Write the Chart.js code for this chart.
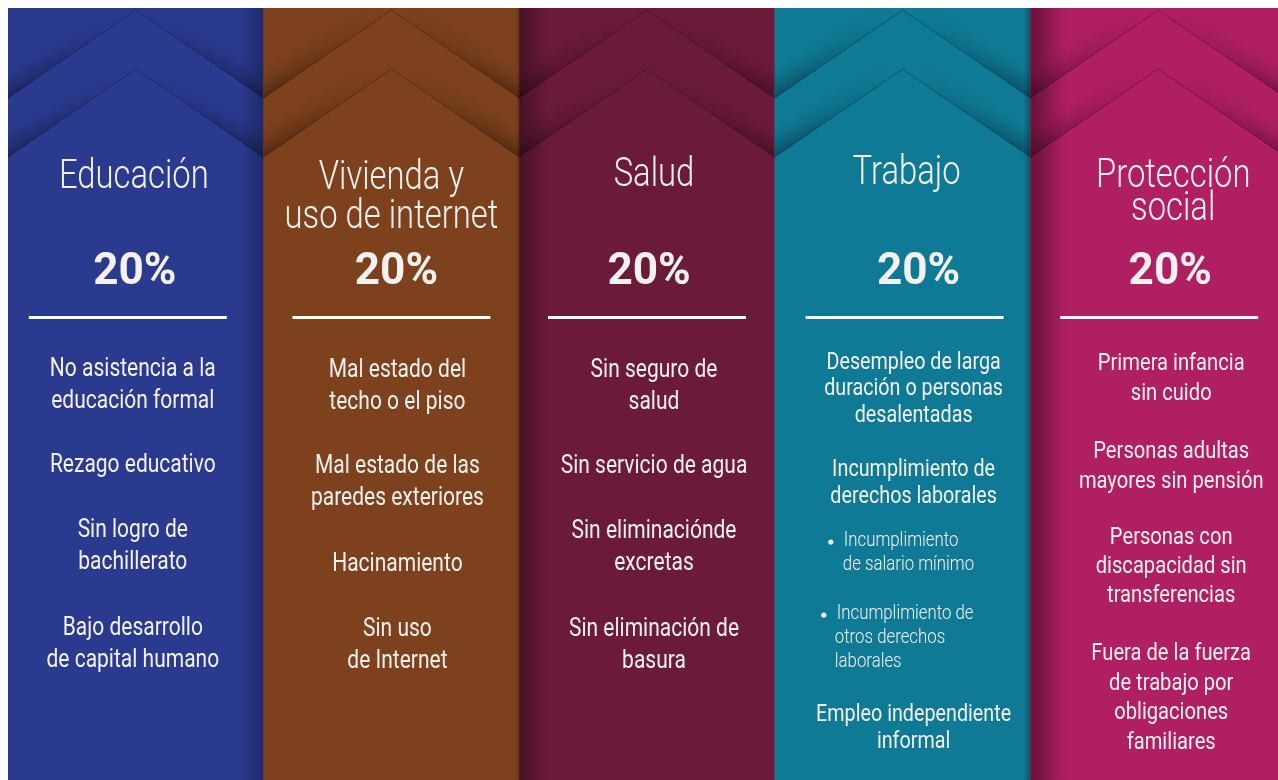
<!DOCTYPE html>
<html><head><meta charset="utf-8">
<script src="https://cdn.jsdelivr.net/npm/chart.js@4.4.1/dist/chart.umd.min.js"></script>
<style>
html,body{margin:0;padding:0;background:#fff;overflow:hidden;width:1278px;height:780px}
canvas{display:block}
</style></head>
<body>
<canvas id="c" width="1290" height="780"></canvas>
<script>
// ---------------- DATA ----------------
const titleLines = [["Educación"], ["Vivienda y", "uso de internet"], ["Salud"], ["Trabajo"], ["Protección", "social"]];
const categories = titleLines.map(l => l.join(" "));
const values = [20, 20, 20, 20, 20];
const pctLabels = values.map(v => v + "%");
const indicators = [
  [["No asistencia a la", "educación formal"], ["Rezago educativo"], ["Sin logro de", "bachillerato"], ["Bajo desarrollo", "de capital humano"]],
  [["Mal estado del", "techo o el piso"], ["Mal estado de las", "paredes exteriores"], ["Hacinamiento"], ["Sin uso", "de Internet"]],
  [["Sin seguro de", "salud"], ["Sin servicio de agua"], ["Sin eliminaciónde", "excretas"], ["Sin eliminación de", "basura"]],
  [["Desempleo de larga", "duración o personas", "desalentadas"], ["Incumplimiento de", "derechos laborales"], ["Incumplimiento", "de salario mínimo"], ["Incumplimiento de", "otros derechos", "laborales"], ["Empleo independiente", "informal"]],
  [["Primera infancia", "sin cuido"], ["Personas adultas", "mayores sin pensión"], ["Personas con", "discapacidad sin", "transferencias"], ["Fuera de la fuerza", "de trabajo por", "obligaciones", "familiares"]]
];

// ---------------- STYLE / LAYOUT ----------------
const colors = ["#2a3a8f", "#7d411d", "#6c1a3a", "#0f7a95", "#b01f62"];
const FONT = "Roboto, 'Liberation Sans', sans-serif";
const TXT = "#f4f1ee";
const TY = 3; // vertical text offset
const titleDx = [-2, 0, 7, 4, 15];
const pctDx = [-1, 5, 2, 16, 12];
const itemDx = [-3, 6, 7, 11, 13];
const ruleDx = [-8, 0, 0, 2, 1];
const titleY = [[175], [176, 215], [173], [171], [174, 207]];
// first line y and line height per group
const groupY = [
  [[367, 32], [463, 32], [528, 32], [626, 32]],
  [[368, 32], [464, 32], [562, 32], [627, 32]],
  [[368, 32], [464, 32], [529, 32], [627, 32]],
  [[360, 26.5], [467, 27], [538, 24], [611, 24], [712, 27]],
  [[361, 30], [449, 30], [535, 29], [651, 29.5]]
];
const itemSize = [25, 25, 25, 23.5, 24];
const bulletGroups = { 3: { 2: [56, 69, 68], 3: [49, 62, 60] } }; // bullet x, first-line x, other lines x (from column left)
const edgeShade = [
  { side: "right", w: 24, a: 0.28 }, { side: "right", w: 4, a: 0.15 },
  { side: "left", w: 30, a: 0.35 }, { side: "right", w: 7, a: 0.3 },
  { side: "left", w: 36, a: 0.42 }
];

function txt(ctx, s, x, y, size, weight, sx, align) {
  ctx.save();
  ctx.font = weight + " " + size + "px " + FONT;
  ctx.textAlign = align || "center";
  ctx.textBaseline = "middle";
  ctx.translate(x, y + TY);
  ctx.scale(sx, 1);
  ctx.fillText(s, 0, 0);
  ctx.restore();
}

function shadeHalf(ctx, ex, ey, cx, cy, A) {
  const N = 16, step = 2;
  for (let k = 0; k < N; k++) {
    const o0 = k * step, o1 = (k + 1) * step;
    const a = A * Math.pow(1 - k / N, 1.6);
    const g = ctx.createLinearGradient(ex, ey, cx, cy);
    g.addColorStop(0, "rgba(0,0,0," + a + ")");
    g.addColorStop(0.55, "rgba(0,0,0," + (a * 0.35) + ")");
    g.addColorStop(0.95, "rgba(0,0,0,0)");
    ctx.fillStyle = g;
    ctx.beginPath();
    ctx.moveTo(ex, ey - o0); ctx.lineTo(cx, cy - o0);
    ctx.lineTo(cx, cy - o1); ctx.lineTo(ex, ey - o1);
    ctx.closePath(); ctx.fill();
  }
}

const infographic = {
  id: "infographic",
  afterDatasetsDraw(chart) {
    const ctx = chart.ctx;
    const meta = chart.getDatasetMeta(0);
    meta.data.forEach((el, i) => {
      const left = el.x - el.width / 2, right = el.x + el.width / 2;
      const top = el.y, bottom = el.base, cx = el.x;
      ctx.save();
      ctx.beginPath(); ctx.rect(left, top, right - left, bottom - top); ctx.clip();
      // edge shading
      const es = edgeShade[i];
      let g;
      if (es.side === "right") {
        g = ctx.createLinearGradient(right - es.w, 0, right, 0);
        g.addColorStop(0, "rgba(0,0,0,0)"); g.addColorStop(1, "rgba(0,0,0," + es.a + ")");
        ctx.fillStyle = g; ctx.fillRect(right - es.w, top, es.w, bottom - top);
      } else {
        g = ctx.createLinearGradient(left, 0, left + es.w, 0);
        g.addColorStop(0, "rgba(0,0,0," + es.a + ")"); g.addColorStop(1, "rgba(0,0,0,0)");
        ctx.fillStyle = g; ctx.fillRect(left, top, es.w, bottom - top);
      }
      // chevrons
      [[2, 90], [61, 149]].forEach(([py, ey]) => {
        shadeHalf(ctx, left, top + ey, cx, top + py, 0.34);
        shadeHalf(ctx, right, top + ey, cx, top + py, 0.34);
        ctx.strokeStyle = "rgba(0,0,0,0.28)"; ctx.lineWidth = 1;
        ctx.beginPath(); ctx.moveTo(left, top + ey); ctx.lineTo(cx, top + py); ctx.lineTo(right, top + ey); ctx.stroke();
      });
      ctx.restore();

      // texts
      ctx.fillStyle = TXT;
      titleLines[i].forEach((s, j) => txt(ctx, s, cx + titleDx[i], titleY[i][j], 41, 300, 0.8));
      txt(ctx, pctLabels[i], cx + pctDx[i], 270, 45, 700, 0.98);
      ctx.fillStyle = "#ffffff";
      ctx.fillRect(cx + ruleDx[i] - 99, 316, 198, 3);
      ctx.fillStyle = TXT;
      indicators[i].forEach((grp, gi) => {
        const [y0, lh] = groupY[i][gi];
        const b = bulletGroups[i] && bulletGroups[i][gi];
        grp.forEach((s, li) => {
          const y = y0 + li * lh;
          if (b) {
            if (li === 0) {
              ctx.beginPath(); ctx.arc(left + b[0], y + TY + 1, 2.6, 0, Math.PI * 2); ctx.fill();
            }
            txt(ctx, s, left + (li === 0 ? b[1] : b[2]), y, 20, 300, 0.84, "left");
          } else {
            txt(ctx, s, cx + itemDx[i], y, itemSize[i], 400, 0.84);
          }
        });
      });
    });
  }
};

new Chart(document.getElementById("c"), {
  type: "bar",
  data: {
    labels: categories,
    datasets: [{ label: "Peso", data: values, backgroundColor: colors, borderWidth: 0, barPercentage: 1, categoryPercentage: 1 }]
  },
  options: {
    responsive: false, animation: false,
    layout: { padding: { left: 8, top: 8, right: 4, bottom: 0 } },
    scales: { x: { display: false }, y: { display: false, min: 0, max: 20 } },
    plugins: { legend: { display: false }, tooltip: { enabled: false } }
  },
  plugins: [infographic]
});
</script>
</body></html>
